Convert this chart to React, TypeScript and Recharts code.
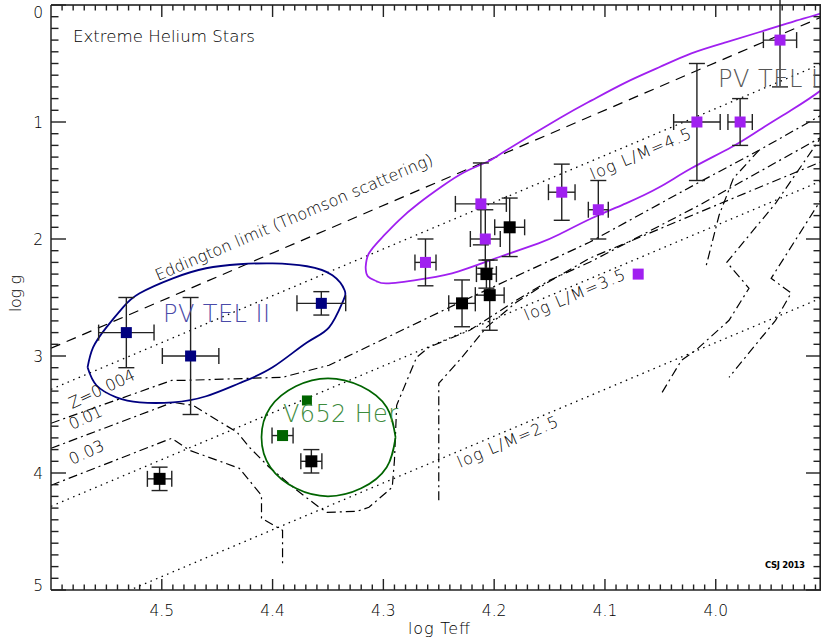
import { ComposedChart, Line, Scatter, XAxis, YAxis, ErrorBar } from 'recharts'

const W = 822
const H = 641
const M = { top: 5, right: 1, bottom: 51, left: 51 }

// axes
const xDomain: [number, number] = [3.905, 4.6]
const yDomain: [number, number] = [0, 5]
const xMajor = [4.5, 4.4, 4.3, 4.2, 4.1, 4.0]
const xMajorLabels = ['4.5', '4.4', '4.3', '4.2', '4.1', '4.0']
const yMajor = [0, 1, 2, 3, 4, 5]
const yMajorLabels = ['0', '1', '2', '3', '4', '5']
const xTicks = Array.from({ length: 69 }, (_, i) => +(3.91 + i * 0.01).toFixed(2))
const yTicks = Array.from({ length: 51 }, (_, i) => +(i * 0.1).toFixed(1))

// stars: log Teff, log g, errors
const purpleStars = [
  { x: 3.942, y: 0.3, ex: 0.015, ey: 0.4 },
  { x: 4.017, y: 1.0, ex: 0.021, ey: 0.5 },
  { x: 3.978, y: 1.0, ex: 0.011, ey: 0.2 },
  { x: 4.139, y: 1.6, ex: 0.012, ey: 0.24 },
  { x: 4.106, y: 1.75, ex: 0.009, ey: 0.25 },
  { x: 4.212, y: 1.7, ex: 0.023, ey: 0.35 },
  { x: 4.208, y: 2.0, ex: 0.0135, ey: 0.25 },
  { x: 4.262, y: 2.2, ex: 0.0095, ey: 0.2 },
]
const purpleBare = [{ x: 4.07, y: 2.3 }]
const blackStars = [
  { x: 4.186, y: 1.9, ex: 0.0135, ey: 0.25 },
  { x: 4.207, y: 2.3, ex: 0.009, ey: 0.12 },
  { x: 4.204, y: 2.48, ex: 0.013, ey: 0.3 },
  { x: 4.229, y: 2.55, ex: 0.012, ey: 0.2 },
  { x: 4.365, y: 3.9, ex: 0.0095, ey: 0.1 },
  { x: 4.502, y: 4.05, ex: 0.011, ey: 0.1 },
]
const navyStars = [
  { x: 4.532, y: 2.8, ex: 0.025, ey: 0.3 },
  { x: 4.474, y: 3.0, ex: 0.0255, ey: 0.5 },
  { x: 4.356, y: 2.55, ex: 0.022, ey: 0.1 },
]
const greenStarX = [{ x: 4.391, y: 3.68, ex: 0.0095 }]
const greenBare = [{ x: 4.369, y: 3.38 }]

// reference lines
const eddington = [[4.6, 2.934], [3.905, 0.105]]
const lm45 = [[4.6, 3.285], [3.905, 0.505]]
const lm35 = [[4.6, 4.285], [3.905, 1.505]]
const lm25 = [[4.6, 5.285], [3.905, 2.505]]

// evolution tracks
const trackZ004 = [
  [4.6, 3.575], [4.491, 3.208], [4.479, 3.208], [4.391, 3.182], [4.349, 3.079],
  [4.229, 2.533], [4.114, 2.028], [4.015, 1.515], [3.961, 1.242], [3.905, 0.943],
]
const trackZ004b = [
  [3.961, 1.242], [3.984, 1.48], [3.997, 1.797], [4.009, 2.242],
]
const trackZ01 = [
  [4.6, 3.789], [4.49, 3.396], [4.472, 3.421], [4.432, 3.652], [4.421, 3.78],
  [4.403, 3.951], [4.378, 4.148], [4.358, 4.293], [4.351, 4.336], [4.324, 4.328],
  [4.313, 4.293], [4.292, 4.122], [4.29, 3.891], [4.288, 3.421], [4.27, 3.011],
  [4.259, 2.926], [4.222, 2.78], [4.18, 2.524], [4.15, 2.353], [4.114, 2.199],
  [4.015, 1.712], [3.905, 1.131],
  [3.946, 1.695], [3.99, 2.199], [3.97, 2.421], [3.988, 2.695], [4.018, 2.951],
  [4.031, 3.037], [4.05, 3.336],
]
const trackZ03 = [
  [4.6, 4.105], [4.491, 3.703], [4.475, 3.806], [4.43, 3.96], [4.41, 4.191],
  [4.41, 4.387], [4.391, 4.49], [4.391, 4.789],
]
const trackHot = [
  [4.25, 4.233], [4.25, 3.233], [4.229, 3.011], [4.207, 2.755], [4.18, 2.541],
  [4.153, 2.379], [4.114, 2.165], [4.015, 1.772], [3.88, 1.242],
  [3.907, 1.695], [3.95, 2.336], [3.932, 2.462], [3.946, 2.695], [3.988, 3.182],
]

// group outlines
const pvTel1 = [
  [4.316, 2.242], [4.313, 2.122], [4.301, 1.985], [4.286, 1.84], [4.268, 1.695],
  [4.247, 1.55], [4.227, 1.43], [4.207, 1.344], [4.189, 1.242], [4.141, 0.968],
  [4.112, 0.815], [4.081, 0.661], [4.051, 0.532], [4.022, 0.413], [3.991, 0.319],
  [3.961, 0.233], [3.932, 0.148], [3.905, 0.071], [3.885, 0.011], [3.864, -0.006],
  [3.853, 0.131], [3.864, 0.344], [3.885, 0.558], [3.905, 0.729], [3.932, 0.9],
  [3.961, 1.071], [3.986, 1.216], [4.022, 1.396], [4.051, 1.558], [4.081, 1.695],
  [4.112, 1.823], [4.141, 1.96], [4.16, 2.037], [4.196, 2.156], [4.232, 2.276],
  [4.261, 2.336], [4.295, 2.379], [4.306, 2.362], [4.314, 2.319], [4.316, 2.242],
]
const pvTel2 = [
  [4.567, 3.097], [4.559, 3.25], [4.541, 3.353], [4.52, 3.396], [4.49, 3.396],
  [4.46, 3.344], [4.43, 3.233], [4.4, 3.097], [4.369, 2.885], [4.349, 2.755],
  [4.337, 2.544], [4.335, 2.438], [4.346, 2.31], [4.369, 2.233], [4.4, 2.208],
  [4.43, 2.216], [4.46, 2.25], [4.49, 2.336], [4.52, 2.464], [4.535, 2.584],
  [4.55, 2.755], [4.562, 2.926], [4.567, 3.097],
]
const v652 = [
  [4.289, 3.695], [4.297, 3.951], [4.32, 4.131], [4.35, 4.199], [4.379, 4.131],
  [4.402, 3.951], [4.41, 3.695], [4.402, 3.438], [4.379, 3.259], [4.35, 3.191],
  [4.32, 3.259], [4.297, 3.438], [4.289, 3.695],
]

const pts = (a: number[][]) => a.map(([x, y]) => ({ x, y }))

const FONT = '"DejaVu Sans", sans-serif'
const INK = '#000'
const AXIS = '#222'
const PURPLE = '#a020f0'
const NAVY = '#000080'
const GREEN = '#006400'

const near = (v: number, step: number) => Math.abs(v / step - Math.round(v / step)) < 1e-6
const xLabel = (v: number) => xMajorLabels[xMajor.findIndex(m => Math.abs(m - v) < 1e-6)]
const yLabel = (v: number) => yMajorLabels[yMajor.findIndex(m => Math.abs(m - v) < 1e-6)]

// plot frame in page pixels (same margins as the chart) for the tick overlay
const PL = M.left
const PR = W - M.right
const PT = M.top
const PB = H - M.bottom
const px = (v: number) => PL + ((xDomain[1] - v) / (xDomain[1] - xDomain[0])) * (PR - PL)
const py = (v: number) => PT + ((v - yDomain[0]) / (yDomain[1] - yDomain[0])) * (PB - PT)

const BottomTick = ({ x, y, payload }: any) => (
  <text x={x} y={y + 25.5} textAnchor="middle" fontSize={15.5} fill={INK} fontFamily={FONT} fontWeight={200}>
    {xLabel(payload.value)}
  </text>
)
const LeftTick = ({ x, y, payload }: any) => {
  const v = payload.value
  const dy = v === 0 ? 12.5 : v === 5 ? 1 : 5.5
  return (
    <text x={x - 8} y={y + dy} textAnchor="end" fontSize={15.5} fill={INK} fontFamily={FONT} fontWeight={200}>
      {yLabel(v)}
    </text>
  )
}

const square = (color: string, s = 11) => (p: any) =>
  <rect x={p.cx - s / 2} y={p.cy - s / 2} width={s} height={s} fill={color} />

const lineProps = { dot: false, isAnimationActive: false, activeDot: false, legendType: 'none' as const }

// tick marks on all four sides as thin filled bars
const T = 1.4
const tickRects: { x: number; y: number; w: number; h: number }[] = []
xTicks.forEach(v => {
  const X = px(v)
  const major = near(v, 0.1)
  const lb = major ? 11 : 5.5
  const lt = major ? 12 : 5.5
  tickRects.push({ x: X - T / 2, y: PB - lb, w: T, h: lb })
  tickRects.push({ x: X - T / 2, y: PT, w: T, h: lt })
})
yTicks.forEach(v => {
  const Y = py(v)
  const len = near(v, 1) ? 15 : 7.5
  tickRects.push({ x: PL, y: Y - T / 2, w: len, h: T })
  tickRects.push({ x: PR - len, y: Y - T / 2, w: len, h: T })
})

export default function App() {
  return (
    <div style={{ position: 'absolute', left: 0, top: 0, width: W, height: H, background: '#fff' }}>
      <ComposedChart width={W} height={H} margin={{ top: M.top, right: M.right, bottom: 0, left: 0 }}>
        <XAxis dataKey="x" type="number" domain={xDomain} reversed allowDataOverflow
          ticks={xMajor} interval={0} tickSize={0} tickMargin={0} tickLine={false} height={M.bottom}
          axisLine={{ stroke: AXIS, strokeWidth: 1.5 }} tick={<BottomTick />} />
        <YAxis dataKey="y" type="number" domain={yDomain} reversed allowDataOverflow
          ticks={yMajor} interval={0} tickSize={0} tickMargin={0} tickLine={false} width={M.left}
          axisLine={{ stroke: AXIS, strokeWidth: 1.5 }} tick={<LeftTick />} />

        <Line {...lineProps} data={pts(eddington)} dataKey="y" type="linear" stroke={INK} strokeWidth={1.2} strokeDasharray="10 7" />
        <Line {...lineProps} data={pts(lm45)} dataKey="y" type="linear" stroke={INK} strokeWidth={1.3} strokeDasharray="1.5 4.5" />
        <Line {...lineProps} data={pts(lm35)} dataKey="y" type="linear" stroke={INK} strokeWidth={1.3} strokeDasharray="1.5 4.5" />
        <Line {...lineProps} data={pts(lm25)} dataKey="y" type="linear" stroke={INK} strokeWidth={1.3} strokeDasharray="1.5 4.5" />

        <Line {...lineProps} data={pts(trackZ004)} dataKey="y" type="linear" stroke={INK} strokeWidth={1.2} strokeDasharray="9 4 2 4" />
        <Line {...lineProps} data={pts(trackZ004b)} dataKey="y" type="linear" stroke={INK} strokeWidth={1.2} strokeDasharray="9 4 2 4" />
        <Line {...lineProps} data={pts(trackZ01)} dataKey="y" type="linear" stroke={INK} strokeWidth={1.2} strokeDasharray="9 4 2 4" />
        <Line {...lineProps} data={pts(trackZ03)} dataKey="y" type="linear" stroke={INK} strokeWidth={1.2} strokeDasharray="9 4 2 4" />
        <Line {...lineProps} data={pts(trackHot)} dataKey="y" type="linear" stroke={INK} strokeWidth={1.2} strokeDasharray="9 4 2 4" />

        <Line {...lineProps} data={pts(pvTel1)} dataKey="y" type="natural" stroke={PURPLE} strokeWidth={1.8} />
        <Line {...lineProps} data={pts(pvTel2)} dataKey="y" type="natural" stroke={NAVY} strokeWidth={1.8} />
        <Line {...lineProps} data={pts(v652)} dataKey="y" type="natural" stroke={GREEN} strokeWidth={1.7} />

        <Scatter data={purpleStars} dataKey="y" isAnimationActive={false} shape={square(PURPLE)}>
          <ErrorBar dataKey="ex" direction="x" width={8} stroke={AXIS} strokeWidth={1.4} />
          <ErrorBar dataKey="ey" direction="y" width={8} stroke={AXIS} strokeWidth={1.4} />
        </Scatter>
        <Scatter data={purpleBare} dataKey="y" isAnimationActive={false} shape={square(PURPLE)} />
        <Scatter data={blackStars} dataKey="y" isAnimationActive={false} shape={square('#000', 12)}>
          <ErrorBar dataKey="ex" direction="x" width={8} stroke={AXIS} strokeWidth={1.4} />
          <ErrorBar dataKey="ey" direction="y" width={8} stroke={AXIS} strokeWidth={1.4} />
        </Scatter>
        <Scatter data={navyStars} dataKey="y" isAnimationActive={false} shape={square(NAVY)}>
          <ErrorBar dataKey="ex" direction="x" width={8} stroke={AXIS} strokeWidth={1.4} />
          <ErrorBar dataKey="ey" direction="y" width={8} stroke={AXIS} strokeWidth={1.4} />
        </Scatter>
        <Scatter data={greenStarX} dataKey="y" isAnimationActive={false} shape={square(GREEN)}>
          <ErrorBar dataKey="ex" direction="x" width={8} stroke={AXIS} strokeWidth={1.4} />
        </Scatter>
        <Scatter data={greenBare} dataKey="y" isAnimationActive={false} shape={square(GREEN, 10)} />
      </ComposedChart>

      {/* frame ticks and annotation layer */}
      <svg width={W} height={H} style={{ position: 'absolute', left: 0, top: 0, pointerEvents: 'none' }}
        fontFamily={FONT} fontWeight={200} fill={INK}>
        <g fill="#222">
          {tickRects.map((r, i) => <rect key={i} x={r.x} y={r.y} width={r.w} height={r.h} />)}
          <rect x={PL} y={PT - 0.8} width={PR - PL} height={1.6} />
          <rect x={PR - 1.6} y={PT} width={1.6} height={PB - PT} />
        </g>
        <text x={73} y={42} fontSize={16} textLength={182} lengthAdjust="spacingAndGlyphs">Extreme Helium Stars</text>
        <text x={158} y={281} fontSize={16} textLength={300} transform="rotate(-23 158 281)">Eddington limit (Thomson scattering)</text>
        <text x={593} y={180} fontSize={16} textLength={108} transform="rotate(-23 593 180)">log L/M=4.5</text>
        <text x={527} y={321} fontSize={16} textLength={108} transform="rotate(-23 527 321)">log L/M=3.5</text>
        <text x={460} y={468} fontSize={16} textLength={108} transform="rotate(-23 460 468)">log L/M=2.5</text>
        <text x={72} y={409} fontSize={16} textLength={71} transform="rotate(-25 72 409)">Z=0.004</text>
        <text x={72} y={430} fontSize={16} textLength={35} transform="rotate(-25 72 430)">0.01</text>
        <text x={72} y={465} fontSize={16} textLength={37} transform="rotate(-25 72 465)">0.03</text>
        <text x={718} y={87} fontSize={24} textLength={100} fill="#555">PV TEL I</text>
        <text x={163} y={322} fontSize={24} textLength={107} fill="#4a4aa8">PV TEL II</text>
        <text x={283} y={422} fontSize={24} textLength={115} fill="#3d8b3d">V652 Her</text>
        <text x={765} y={568} fontSize={8.5} fontWeight={700} textLength={40}>CSJ 2013</text>
        <text x={408} y={634} fontSize={16} textLength={62}>log Teff</text>
        <text x={21} y={312} fontSize={16} textLength={37} transform="rotate(-90 21 312)">log g</text>
      </svg>
    </div>
  )
}
